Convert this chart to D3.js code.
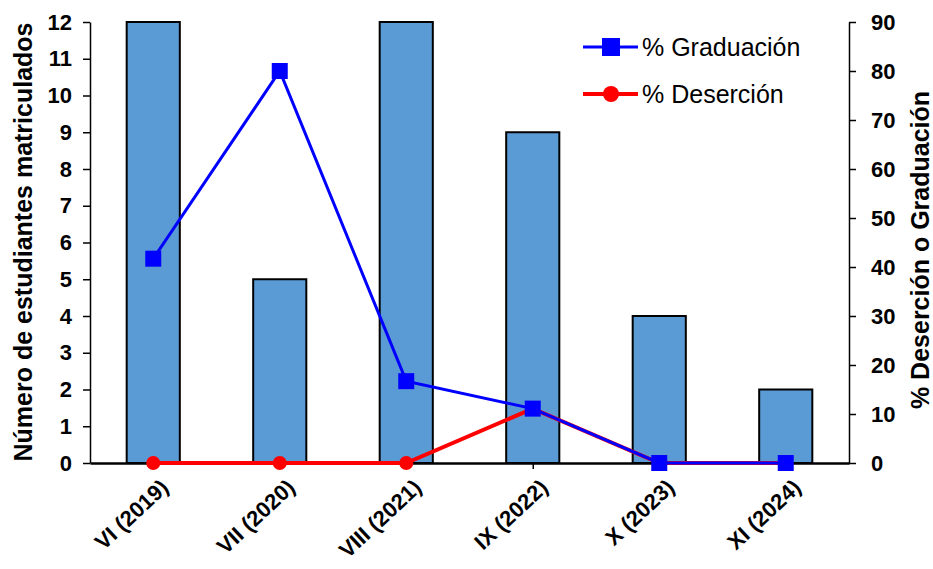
<!DOCTYPE html>
<html><head><meta charset="utf-8">
<script src="https://cdn.jsdelivr.net/npm/d3@7"></script>
<style>body{margin:0;background:#fff;} svg{display:block;} text{font-family:"Liberation Sans",Arial,sans-serif;}</style>
</head><body>
<svg id="c" width="933" height="569"></svg>
<script>
const categories = ["VI (2019)","VII (2020)","VIII (2021)","IX (2022)","X (2023)","XI (2024)"];
const students = [12,5,12,9,4,2];
const graduation = [41.7,80,16.7,11.1,0,0];
const desertion = [0,0,0,11.1,0,0];
const leftTicks = [0,1,2,3,4,5,6,7,8,9,10,11,12];
const rightTicks = [0,10,20,30,40,50,60,70,80,90];

const svg = d3.select("#c");
const L=90, R=849, T=22, B=463;
const x = d3.scaleBand().domain(categories).range([L,R]).paddingInner(0.58).paddingOuter(0.29);
const xc = d3.scalePoint().domain(categories).range([L,R]).padding(0.5);
const yL = d3.scaleLinear().domain([0,12]).range([B,T]);
const yR = d3.scaleLinear().domain([0,90]).range([B,T]);

// bars
svg.append("g").selectAll("rect").data(categories).join("rect")
  .attr("x",d=>x(d)).attr("width",x.bandwidth())
  .attr("y",(d,i)=>yL(students[i])).attr("height",(d,i)=>B-yL(students[i]))
  .attr("fill","#5B9BD5").attr("stroke","#000").attr("stroke-width",2);

// axes
const gl = svg.append("g").attr("transform",`translate(${L},0)`)
  .call(d3.axisLeft(yL).tickValues(leftTicks).tickSize(7).tickPadding(11).tickSizeOuter(0));
const gr = svg.append("g").attr("transform",`translate(${R},0)`)
  .call(d3.axisRight(yR).tickValues(rightTicks).tickSize(7).tickPadding(15).tickSizeOuter(0));
const gb = svg.append("g").attr("transform",`translate(0,${B})`)
  .call(d3.axisBottom(xc).tickSize(6).tickSizeOuter(0).tickFormat(""));
[gl,gr,gb].forEach(g=>{
  g.selectAll("path").attr("stroke","#000").attr("stroke-width",1.5);
  g.selectAll("line").attr("stroke","#000").attr("stroke-width",1.5);
  g.selectAll("text").attr("font-size",22).attr("font-weight","bold").attr("fill","#000")
    .attr("font-family","'Liberation Sans',Arial,sans-serif");
});
gb.select("path").attr("stroke-width",2.5);

// x labels
svg.append("g").selectAll("text").data(categories).join("text")
  .attr("transform",d=>`translate(${xc(d)+6},${B+15}) rotate(-43)`)
  .attr("text-anchor","end").attr("dy","0.7em")
  .attr("font-size",22).attr("font-weight","bold").text(d=>d);

// axis titles
svg.append("text").attr("transform",`translate(32,242) rotate(-90)`)
  .attr("text-anchor","middle").attr("font-size",25).attr("font-weight","bold")
  .text("Número de estudiantes matriculados");
svg.append("text").attr("transform",`translate(929,250) rotate(-90)`)
  .attr("text-anchor","middle").attr("font-size",25).attr("font-weight","bold")
  .text("% Deserción o Graduación");

// lines
const line = d3.line().x((d,i)=>xc(categories[i])).y(d=>yR(d));
svg.append("path").datum(desertion).attr("d",line).attr("fill","none").attr("stroke","#FF0000").attr("stroke-width",4);
svg.append("g").selectAll("circle").data(desertion).join("circle")
  .attr("cx",(d,i)=>xc(categories[i])).attr("cy",d=>yR(d)).attr("r",7).attr("fill","#FF0000");
svg.append("path").datum(graduation).attr("d",line).attr("fill","none").attr("stroke","#0000FF").attr("stroke-width",3);
svg.append("g").selectAll("rect").data(graduation).join("rect")
  .attr("x",(d,i)=>xc(categories[i])-8).attr("y",d=>yR(d)-8).attr("width",16).attr("height",16).attr("fill","#0000FF");

// legend
const lg = svg.append("g");
lg.append("line").attr("x1",583).attr("x2",638).attr("y1",47).attr("y2",47).attr("stroke","#0000FF").attr("stroke-width",3);
lg.append("rect").attr("x",602).attr("y",38).attr("width",18).attr("height",18).attr("fill","#0000FF");
lg.append("text").attr("x",642).attr("y",47).attr("dy","0.35em").attr("font-size",25).text("% Graduación");
lg.append("line").attr("x1",583).attr("x2",638).attr("y1",94).attr("y2",94).attr("stroke","#FF0000").attr("stroke-width",4);
lg.append("circle").attr("cx",611).attr("cy",94).attr("r",8).attr("fill","#FF0000");
lg.append("text").attr("x",642).attr("y",94).attr("dy","0.35em").attr("font-size",25).text("% Deserción");
</script>
</body></html>
